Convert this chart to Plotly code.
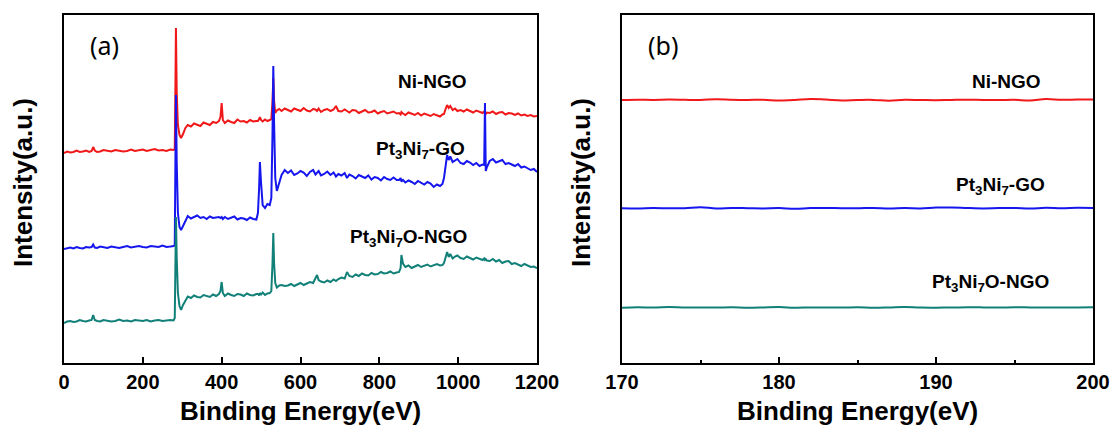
import plotly.graph_objects as go

# ---------------- survey spectra, panel (a) ----------------
survey_energy = [
    0, 8, 16, 24, 32, 40, 48, 56, 64, 70, 74, 78, 84, 92, 100, 110, 120, 130, 140, 150,
    160, 170, 180, 190, 200, 210, 220, 230, 240, 250, 260, 270, 278,
    281, 283, 284, 286, 289, 293, 297, 302, 308,
    314, 322, 330, 338, 346, 354, 362, 370, 378, 386, 393,
    397, 400, 403,
    408, 416, 424, 432, 440, 448, 456, 464, 472, 480, 488,
    492, 495, 497, 500, 504, 510, 516, 522, 526, 529, 531, 533, 536, 540, 546, 552, 560,
    568, 576, 584, 592, 600, 608, 616, 624, 632, 638, 642, 646, 652, 660, 668, 676, 684, 690, 696,
    704, 712, 718, 724, 732, 740, 748, 756, 764, 772, 780, 788, 796, 804, 812, 820, 828, 836, 844,
    850, 854, 856, 860, 866, 874, 882, 890, 898, 906, 914, 922, 930, 938, 946, 954, 960,
    964, 968, 972, 976, 980, 986, 992, 998, 1006, 1014, 1022, 1030, 1038, 1046, 1054, 1062,
    1066, 1068, 1070, 1073,
    1080, 1088, 1096, 1104, 1112, 1120, 1128, 1136, 1144, 1152, 1160, 1168, 1176, 1184, 1192, 1200,
]

survey_ni_ngo = [
    210, 211.5, 210.5, 211, 212.5, 211, 211.5, 212.5, 211, 212, 216, 212.5, 211, 211.5, 213, 212, 211.5, 213, 212.5, 211.5,
    212, 213.5, 212, 212.5, 213.5, 212, 213, 214, 212.5, 213, 212, 213.5, 213,
    214, 290, 335, 270, 238, 228, 225, 229, 235,
    238, 236.5, 239.5, 238, 237, 240.5, 239, 238, 241, 240, 242,
    246, 260, 243,
    240, 242.5, 241, 240, 243.5, 241.5, 242, 240.5, 243, 241.5, 242,
    242, 244, 246, 243, 241.5, 243.5, 242, 243, 244, 262, 285, 262, 250, 252.5, 254, 252, 254.5,
    253, 251.5, 254.5, 253, 252, 255, 252.5, 251.5, 254, 253.5, 252, 254.5, 251, 253, 254, 252, 253.5, 257, 252,
    251.5, 253.5, 252, 250.5, 253, 252.5, 250, 251.5, 253, 250.5, 251, 252.5, 249.5, 251, 252, 249.5, 250.5, 251.5, 249.5,
    250, 248.5, 251, 249.5, 248, 250.5, 249, 248, 250, 247.5, 249.5, 248.5, 247, 249, 248, 246.5, 248.5,
    249, 254, 258, 255, 257, 253, 254.5, 252, 253, 251.5, 253.5, 252, 250.5, 252.5, 251, 250,
    251.5, 250, 249, 250.5,
    250, 251.5, 249, 250.5, 251, 248.5, 250, 249.5, 248, 249.5, 247.5, 248.5, 247, 248, 246.5, 247,
]

survey_pt3ni7_go = [
    114, 115, 115.5, 114.5, 116, 115, 114.5, 116, 115.5, 116, 118.5, 115.5, 115, 116.5, 115.5, 115, 116.5, 116, 115, 116,
    117, 115.5, 116, 117, 116, 115.5, 117, 116.5, 116, 117.5, 116, 116.5, 117,
    118, 220, 268, 200, 150, 136, 133, 137, 143,
    147, 144.5, 146, 147.5, 145, 146, 144, 146.5, 145, 145.5, 146,
    145, 146, 144,
    146, 144, 145.5, 146.5, 143.5, 145, 144.5, 143, 145.5, 144, 143.5,
    150, 175, 201, 180, 158, 155, 159, 158, 165, 230, 297, 240, 185, 172, 180, 188, 193,
    190, 192.5, 188, 189.5, 192, 190.5, 187, 191, 193, 188.5, 190, 192, 187.5, 189, 191.5, 188, 190.5, 186.5, 189,
    187.5, 190, 185, 188.5, 187, 184.5, 188, 186.5, 185, 187.5, 183.5, 186, 185, 182.5, 186, 184, 183, 185.5, 183,
    183, 185, 181.5, 183, 180.5, 182.5, 181, 179, 182, 180.5, 178.5, 181, 179.5, 176, 178.5, 177, 179,
    185, 198, 208, 203, 206.5, 201, 202.5, 204, 200, 199, 202, 200.5, 198, 200, 197, 198.5,
    198, 260, 192, 196,
    202, 204, 200.5, 201.5, 203, 199, 200, 198.5, 197, 199, 195.5, 196.5, 194.5, 193, 194, 191,
]

survey_pt3ni7o_ngo = [
    40, 41.5, 42, 41, 41.5, 43, 42, 41.5, 42.5, 43, 48, 43, 42, 41.5, 43, 42.5, 41.5, 42, 43.5, 42,
    42.5, 41.5, 43, 42.5, 42, 43, 41.5, 42.5, 43, 42, 42.5, 43, 42.5,
    45, 110, 146, 105, 70, 57, 53, 58, 63,
    66.5, 65, 67.5, 66, 65.5, 68, 67, 66, 68.5, 67, 69,
    72, 81, 70,
    67, 69.5, 68, 67, 69, 68.5, 67, 69.5, 68, 67.5, 69,
    69, 67.5, 70, 68.5, 70.5, 68, 69.5, 70, 72, 100, 130, 100, 80, 75.5, 77.5, 78, 77,
    77.5, 79, 77, 78.5, 80, 78, 79.5, 81, 80, 84, 88, 83, 81.5, 80.5, 82.5, 81, 83.5, 82, 84,
    85.5, 84.5, 91, 87, 86, 88.5, 87, 89.5, 88, 87.5, 90, 88.5, 89, 91, 89.5, 90, 91.5, 89.5, 90.5,
    91, 95, 108, 99.5, 96, 97.5, 95, 96.5, 98, 96, 97.5, 98.5, 96.5, 97.5, 99, 97.5, 98,
    100, 105, 111, 106, 109, 104.5, 106.5, 107.5, 105, 104, 106.5, 105, 103.5, 105.5, 104, 103,
    104.5, 103, 104, 102.5,
    102, 104, 101.5, 103, 100, 101.5, 102, 99, 100, 98.5, 97, 99, 97.5, 96, 96.5, 95,
]

# ---------------- S 2p window, panel (b) ----------------
s2p_energy = [170, 171, 172, 173, 174, 175, 176, 177, 178, 179, 180, 181, 182, 183, 184, 185,
              186, 187, 188, 189, 190, 191, 192, 193, 194, 195, 196, 197, 198, 199, 200]
s2p_ni_ngo = [263, 263.3, 263.1, 263.4, 263.2, 263.0, 263.8, 263.3, 263.1, 263.2, 262.5, 263.0,
              264.0, 263.4, 262.6, 263.0, 263.1, 262.3, 263.2, 263.0, 262.8, 263.1, 263.3, 263.0,
              262.9, 263.2, 262.4, 264.0, 263.2, 263.4, 263.5]
s2p_pt3ni7_go = [154.8, 154.6, 155.0, 154.7, 154.8, 155.8, 154.5, 155.0, 154.8, 154.6, 154.9,
                 154.3, 154.9, 155.0, 154.8, 154.7, 155.1, 154.4, 154.9, 154.6, 155.4, 155.6,
                 155.0, 154.6, 154.9, 155.0, 154.5, 155.2, 154.8, 155.3, 155.1]
s2p_pt3ni7o_ngo = [55.2, 55.8, 55.4, 55.9, 55.5, 55.6, 55.4, 55.7, 55.2, 55.5, 55.9, 55.3, 55.5,
                   55.6, 55.4, 55.8, 55.2, 55.5, 56.0, 55.4, 55.3, 55.5, 55.7, 55.6, 55.4, 55.8,
                   55.6, 55.4, 55.5, 55.6, 55.7]

sample_names = ["Ni-NGO", "Pt<sub>3</sub>Ni<sub>7</sub>-GO", "Pt<sub>3</sub>Ni<sub>7</sub>O-NGO"]
colors = ["#f01818", "#1616ee", "#118078"]

survey_ticks = [0, 200, 400, 600, 800, 1000, 1200]
s2p_ticks = [170, 180, 190, 200]

for series in (survey_ni_ngo, survey_pt3ni7_go, survey_pt3ni7o_ngo):
    assert len(series) == len(survey_energy)
for series in (s2p_ni_ngo, s2p_pt3ni7_go, s2p_pt3ni7o_ngo):
    assert len(series) == len(s2p_energy)

W, H = 1115, 435
FONT = "Liberation Sans, Arial, sans-serif"

fig = go.Figure()

survey_series = [survey_ni_ngo, survey_pt3ni7_go, survey_pt3ni7o_ngo]
s2p_series = [s2p_ni_ngo, s2p_pt3ni7_go, s2p_pt3ni7o_ngo]

for vals, c in zip(survey_series, colors):
    fig.add_trace(go.Scatter(x=survey_energy, y=vals, mode="lines",
                             line=dict(color=c, width=2), xaxis="x", yaxis="y",
                             showlegend=False))
for vals, c in zip(s2p_series, colors):
    fig.add_trace(go.Scatter(x=s2p_energy, y=vals, mode="lines",
                             line=dict(color=c, width=2, shape="spline"), xaxis="x2", yaxis="y2",
                             showlegend=False))

def px_x(p):
    return p / W

def px_y(p):
    return 1 - p / H

y_top, y_bot = 15, 363
ydom = [px_y(y_bot), px_y(y_top)]

axis_common = dict(showline=True, mirror=True, linecolor="black", linewidth=2,
                   showgrid=False, zeroline=False, automargin=False)

fig.update_layout(
    template="none",
    width=W, height=H,
    margin=dict(l=0, r=0, t=0, b=0, pad=0),
    paper_bgcolor="white", plot_bgcolor="white",
    xaxis=dict(domain=[px_x(64), px_x(537)], range=[0, 1200], tickvals=survey_ticks,
               ticks="inside", ticklen=6, tickwidth=2, tickcolor="black",
               tickfont=dict(family=FONT, size=20, color="black", weight="bold"),
               anchor="y", **axis_common),
    yaxis=dict(domain=ydom, range=[0, 348], showticklabels=False, ticks="",
               anchor="x", **axis_common),
    xaxis2=dict(domain=[px_x(622), px_x(1093)], range=[170, 200], tickvals=s2p_ticks,
                ticks="inside", ticklen=6, tickwidth=2, tickcolor="black",
                minor=dict(ticks="inside", ticklen=3, tickwidth=2, tickcolor="black",
                           tickvals=[175, 185, 195]),
                tickfont=dict(family=FONT, size=20, color="black", weight="bold"),
                anchor="y2", **axis_common),
    yaxis2=dict(domain=ydom, range=[0, 348], showticklabels=False, ticks="",
                anchor="x2", **axis_common),
)

annotations = []

def label(x, y, text, size, bold=True, family=FONT, angle=0):
    annotations.append(dict(
        x=px_x(x), y=px_y(y), xref="paper", yref="paper", text=text, showarrow=False,
        xanchor="center", yanchor="middle", textangle=angle,
        font=dict(family=family, size=size, color="black", weight="bold" if bold else "normal"),
    ))

# axis titles
label(300.5, 411, "Binding Energy(eV)", 26)
label(857.5, 411, "Binding Energy(eV)", 26)
label(23, 183, "Intensity(a.u.)", 26, angle=-90)
label(581, 183, "Intensity(a.u.)", 26, angle=-90)

# panel tags
label(104, 45, "(a)", 25, bold=False, family="Noto Sans, sans-serif")
label(663, 45, "(b)", 25, bold=False, family="Noto Sans, sans-serif")

# sample labels
for (x, y), name in zip([(432, 82), (420, 150), (408, 238)], sample_names):
    label(x, y, name, 19)
for (x, y), name in zip([(1006, 81), (1000, 186), (990, 283)], sample_names):
    label(x, y, name, 19)

fig.update_layout(annotations=annotations)

fig.write_html("out.html")
